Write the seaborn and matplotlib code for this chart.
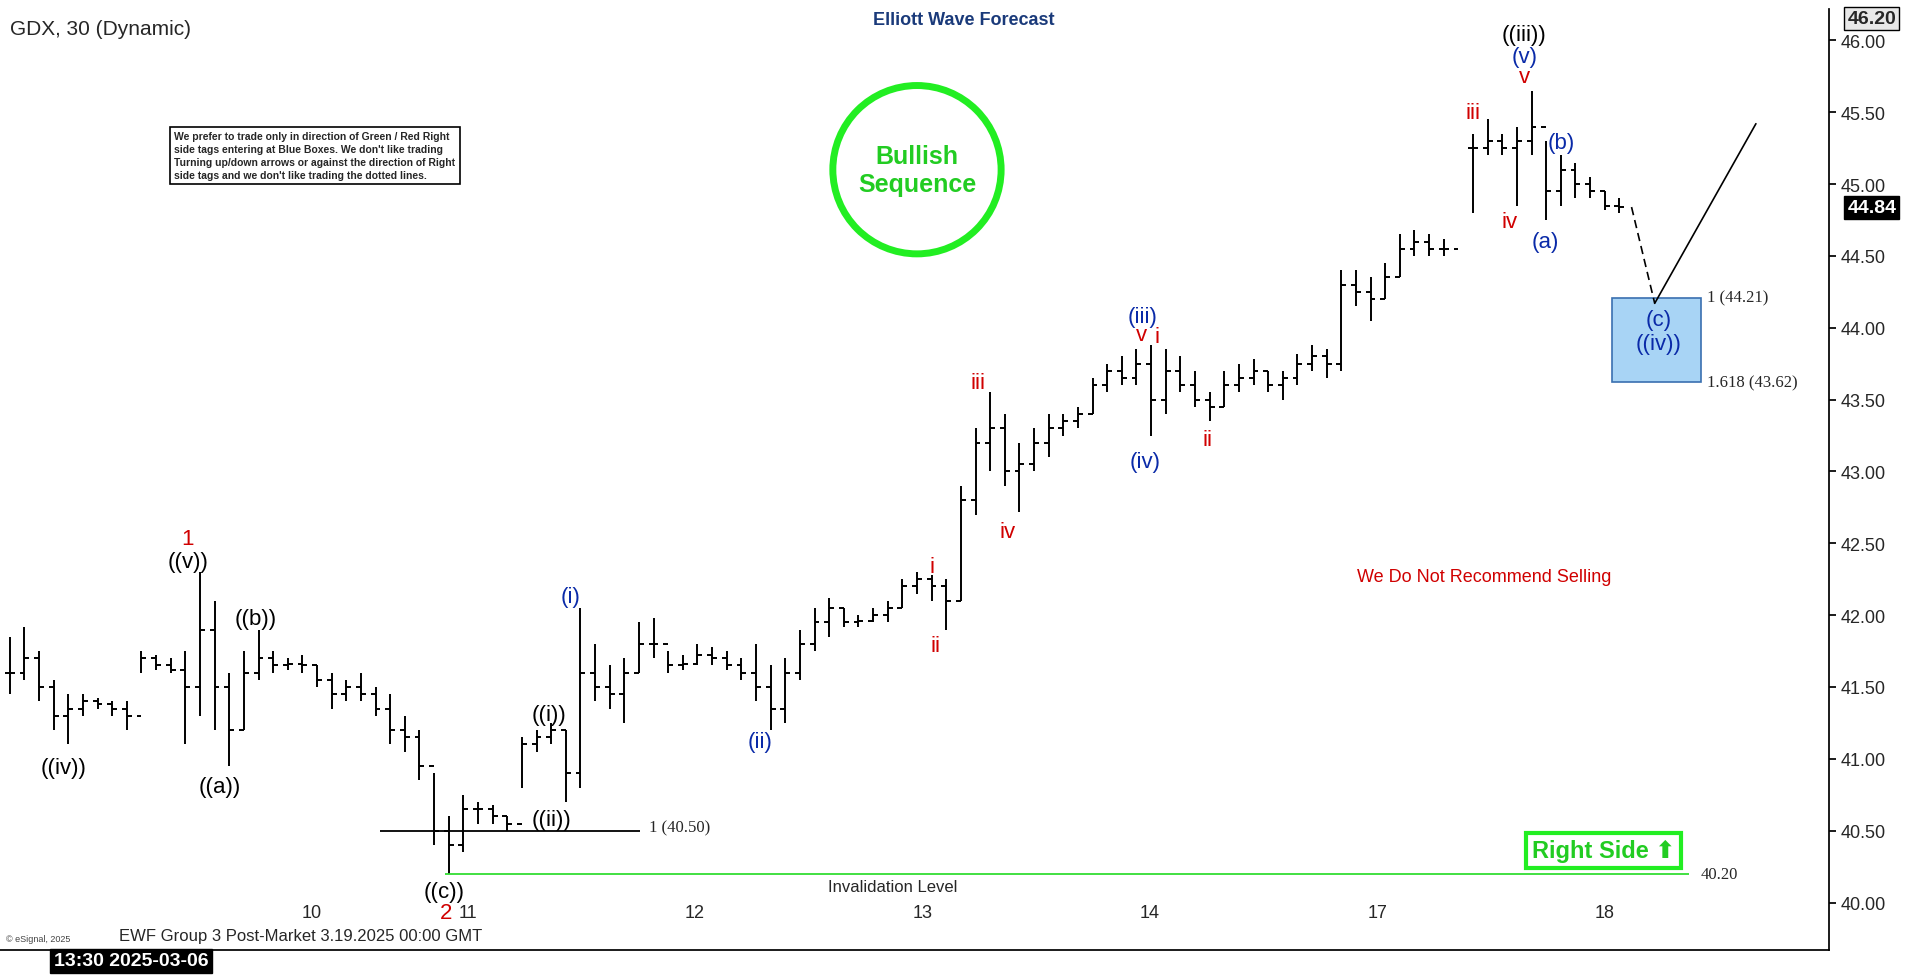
import numpy as np
import pandas as pd
import matplotlib.pyplot as plt
import matplotlib.patches as mpatches
import seaborn as sns

# 30 min bars, GDX (gap bar = nan between sessions)
lows = [41.45, 41.55, 41.4, 41.2, 41.1, 41.3, 41.35, 41.3, 41.2, 41.6, 41.62, 41.6, 41.1, 41.3, 41.2,
        40.95, 41.2, 41.55, 41.6, 41.62, 41.6, 41.5, 41.35, 41.4, 41.4, 41.3, 41.1, 41.05, 40.85, 40.4,
        40.2, 40.35, 40.55, 40.55, 40.5, 40.8, 41.05, 41.1, 40.7, 40.8, 41.4, 41.35, 41.25, 41.6, 41.7,
        41.6, 41.62, 41.65, 41.65, 41.62, 41.55, 41.4, 41.2, 41.25, 41.55, 41.75, 41.85, 41.92, 41.92, 41.95,
        41.95, 42.05, 42.15, 42.1, 41.9, 42.1, 42.7, 43.0, 42.9, 42.72, 43.0, 43.1, 43.25, 43.3, 43.4,
        43.55, 43.6, 43.6, 43.25, 43.4, 43.55, 43.45, 43.35, 43.45, 43.55, 43.6, 43.55, 43.5, 43.6, 43.7,
        43.65, 43.7, 44.15, 44.05, 44.2, 44.35, 44.5, 44.5, 44.5, np.nan, 44.8, 45.2, 45.2, 44.85, 45.2,
        44.75, 44.85, 44.9, 44.9, 44.82, 44.8]
highs = [41.85, 41.92, 41.75, 41.55, 41.45, 41.45, 41.42, 41.4, 41.4, 41.75, 41.72, 41.7, 41.75, 42.3, 42.1,
         41.6, 41.75, 41.9, 41.75, 41.7, 41.72, 41.65, 41.6, 41.55, 41.6, 41.5, 41.45, 41.3, 41.2, 40.9,
         40.6, 40.75, 40.7, 40.68, 40.6, 41.15, 41.2, 41.25, 41.2, 42.05, 41.8, 41.65, 41.7, 41.95, 41.98,
         41.75, 41.72, 41.8, 41.78, 41.75, 41.7, 41.8, 41.65, 41.7, 41.9, 42.05, 42.12, 42.05, 42.0, 42.05,
         42.1, 42.25, 42.3, 42.28, 42.25, 42.9, 43.3, 43.55, 43.4, 43.2, 43.3, 43.4, 43.4, 43.45, 43.65,
         43.75, 43.8, 43.85, 43.88, 43.85, 43.8, 43.7, 43.55, 43.7, 43.75, 43.78, 43.7, 43.7, 43.82, 43.88,
         43.85, 44.4, 44.4, 44.35, 44.45, 44.65, 44.68, 44.65, 44.62, np.nan, 45.35, 45.45, 45.35, 45.4, 45.65,
         45.3, 45.2, 45.15, 45.05, 44.95, 44.9]
closes = [41.6, 41.7, 41.5, 41.3, 41.35, 41.4, 41.38, 41.35, 41.3, 41.7, 41.65, 41.62, 41.5, 41.9, 41.5,
          41.2, 41.6, 41.7, 41.65, 41.66, 41.65, 41.55, 41.45, 41.5, 41.45, 41.35, 41.2, 41.15, 40.95, 40.5,
          40.4, 40.65, 40.65, 40.6, 40.55, 41.1, 41.15, 41.2, 40.9, 41.6, 41.5, 41.45, 41.6, 41.8, 41.8,
          41.65, 41.66, 41.72, 41.7, 41.65, 41.6, 41.5, 41.35, 41.6, 41.8, 41.95, 42.05, 41.95, 41.96, 42.0,
          42.05, 42.2, 42.25, 42.2, 42.1, 42.8, 43.2, 43.3, 43.0, 43.05, 43.2, 43.3, 43.35, 43.4, 43.6,
          43.7, 43.65, 43.75, 43.5, 43.7, 43.6, 43.5, 43.45, 43.6, 43.65, 43.7, 43.6, 43.65, 43.75, 43.8,
          43.75, 44.3, 44.25, 44.2, 44.35, 44.55, 44.6, 44.55, 44.55, np.nan, 45.25, 45.3, 45.25, 45.3, 45.4,
          44.95, 45.1, 45.0, 44.95, 44.85, 44.84]

day_labels = ["10", "11", "12", "13", "14", "17", "18"]
day_pos = [256, 384, 570, 757, 943, 1130, 1316]
proj_x = [1338, 1357, 1440]
proj_y = [44.84, 44.17, 45.42]

sns.set_theme(style="white")
plt.rcParams["font.family"] = ["Liberation Sans", "DejaVu Sans"]

W, H = 1568, 803  # layout frame (reference scale)
fig = plt.figure(figsize=(19.12, 9.79), dpi=100)
ax = fig.add_axes([0, (H - 780) / H, 1500 / W, 772 / H])

df = pd.DataFrame({"low": lows, "high": highs, "close": closes})
df["x"] = np.arange(len(df)) * 12 + 8
df["open"] = df["close"].shift(1).fillna(df["close"])
ax.vlines(df["x"], df["low"], df["high"], color="black", lw=1.4)
ax.hlines(df["open"], df["x"] - 4, df["x"], color="black", lw=1.4)
ax.hlines(df["close"], df["x"], df["x"] + 4, color="black", lw=1.4)

ax.set_xlim(0, 1500)
ax.set_ylim(39.67, 46.22)

# projection path
ax.plot(proj_x[:2], proj_y[:2], color="black", ls=(0, (5, 3)), lw=1.2)
ax.plot(proj_x[1:], proj_y[1:], color="black", lw=1.2)

# blue box
ax.add_patch(mpatches.Rectangle((1322, 43.62), 73, 0.59, fc="#a8d4f5", ec="#3a70b0", lw=1.2))
ax.text(1400, 44.21, "1 (44.21)", fontsize=12, va="center", family="Liberation Serif")
ax.text(1400, 43.62, "1.618 (43.62)", fontsize=12, va="center", family="Liberation Serif")

# levels
ax.hlines(40.50, 312, 525, color="black", lw=1.3)
ax.text(532, 40.52, "1 (40.50)", fontsize=12, va="center", family="Liberation Serif")
ax.hlines(40.20, 365, 1385, color="#33dd33", lw=1.3)
ax.text(1395, 40.2, "40.20", fontsize=12, va="center", family="Liberation Serif")
ax.text(732, 40.11, "Invalidation Level", fontsize=12, ha="center", va="center")

RED, BLUE = "#d00000", "#0a2aa8"
labels = [
    ("1", 154, 42.53, RED), ("((v))", 154, 42.37, "black"), ("((b))", 210, 41.98, "black"),
    ("((iv))", 52, 40.94, "black"), ("((a))", 180, 40.81, "black"), ("((i))", 450, 41.31, "black"),
    ("((ii))", 452, 40.58, "black"), ("((c))", 364, 40.08, "black"), ("2", 366, 39.93, RED),
    ("(i)", 468, 42.13, BLUE), ("(ii)", 623, 41.12, BLUE), ("i", 764, 42.34, RED), ("ii", 767, 41.79, RED),
    ("iii", 802, 43.62, RED), ("iv", 826, 42.58, RED), ("(iii)", 937, 44.08, BLUE), ("v", 936, 43.95, RED),
    ("i", 949, 43.94, RED), ("(iv)", 939, 43.07, BLUE), ("ii", 990, 43.22, RED), ("iii", 1208, 45.5, RED),
    ("iv", 1238, 44.74, RED), ("((iii))", 1250, 46.04, "black"), ("(v)", 1250, 45.89, BLUE),
    ("v", 1250, 45.75, RED), ("(a)", 1267, 44.6, BLUE), ("(b)", 1280, 45.29, BLUE),
    ("(c)", 1360, 44.06, BLUE), ("((iv))", 1360, 43.89, BLUE),
]
for t, x, y, c in labels:
    ax.text(x, y, t, color=c, fontsize=16, ha="center", va="center")

ax.text(1217, 42.27, "We Do Not Recommend Selling", color=RED, fontsize=13, ha="center", va="center")
ax.text(1315, 40.36, "Right Side \u2b06", color="#22cc22", fontsize=17, weight="bold", ha="center", va="center",
        bbox=dict(fc="white", ec="#22ee22", lw=3, boxstyle="square,pad=0.25"))

# bullish circle
ax.add_patch(mpatches.Ellipse((752, 45.1), 138, 138 / 117.8, fc="none", ec="#22ee22", lw=5))
ax.text(752, 45.1, "Bullish\nSequence", color="#22cc22", fontsize=18, weight="bold", ha="center", va="center",
        linespacing=1.2)

ax.text(143, 45.2, "We prefer to trade only in direction of Green / Red Right\nside tags entering at Blue Boxes. We don't like trading\n"
        "Turning up/down arrows or against the direction of Right\nside tags and we don't like trading the dotted lines.",
        fontsize=7.5, weight="bold", va="center", linespacing=1.35,
        bbox=dict(fc="white", ec="black", lw=1.2, boxstyle="square,pad=0.4"))

for lab, p in zip(day_labels, day_pos):
    ax.text(p, 39.93, lab, fontsize=13, ha="center", va="center")
ax.text(98, 39.72, "EWF Group 3 Post-Market 3.19.2025 00:00 GMT", fontsize=12, va="bottom")
ax.text(5, 39.72, "© eSignal, 2025", fontsize=6.5, va="bottom", color="#444444")

ax.yaxis.tick_right()
ticks = np.arange(40, 46.01, 0.5)
ax.set_yticks(ticks)
ax.set_yticklabels([f"{v:.2f}" for v in ticks], fontsize=13)
ax.tick_params(axis="y", length=5, color="black", right=True)
ax.set_xticks([])
for s in ["top", "left"]:
    ax.spines[s].set_visible(False)
ax.spines["right"].set_color("black")
ax.spines["bottom"].set_color("black")

fig.text(8 / W, 1 - 24 / H, "GDX, 30 (Dynamic)", fontsize=15, va="center")
fig.text(790 / W, 1 - 17 / H, "Elliott Wave Forecast", fontsize=13, weight="bold", color="#1a3a7a",
         ha="center", va="center")
fig.text(1535 / W, 1 - 16 / H, "46.20", fontsize=14, weight="bold", ha="center", va="center",
         bbox=dict(fc="#e8e8e8", ec="black", lw=1, boxstyle="square,pad=0.15"))
fig.text(1535 / W, 1 - 171 / H, "44.84", fontsize=14, weight="bold", color="white", ha="center", va="center",
         bbox=dict(fc="black", ec="black", boxstyle="square,pad=0.15"))
fig.text(44 / W, 1 - 789 / H, "13:30 2025-03-06", fontsize=14, weight="bold", color="white", va="center",
         bbox=dict(fc="black", ec="black", boxstyle="square,pad=0.2"))

fig.savefig("out.png", dpi=100, facecolor="white")
